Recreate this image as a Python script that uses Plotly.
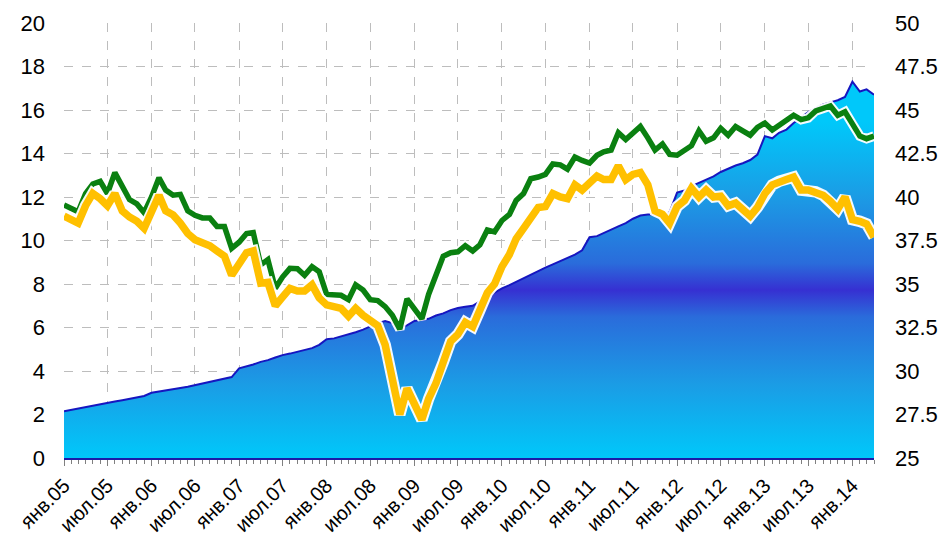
import plotly.graph_objects as go
import pandas as pd

# ---- data -------------------------------------------------------------
months = [d.strftime("%Y-%m-%d") for d in pd.date_range("2005-01-01", "2014-04-01", freq="MS")]

tick_dates = ["2005-01-01", "2005-07-01", "2006-01-01", "2006-07-01", "2007-01-01", "2007-07-01",
              "2008-01-01", "2008-07-01", "2009-01-01", "2009-07-01", "2010-01-01", "2010-07-01",
              "2011-01-01", "2011-07-01", "2012-01-01", "2012-07-01", "2013-01-01", "2013-07-01",
              "2014-01-01"]
tick_labels = ["янв.05", "июл.05", "янв.06", "июл.06", "янв.07", "июл.07", "янв.08", "июл.08",
               "янв.09", "июл.09", "янв.10", "июл.10", "янв.11", "июл.11", "янв.12", "июл.12",
               "янв.13", "июл.13", "янв.14"]

# left axis (area)
area_values = [
    2.15, 2.22, 2.28, 2.34, 2.41, 2.47, 2.54, 2.60, 2.66, 2.72, 2.78, 2.85,
    3.00, 3.05, 3.10, 3.16, 3.22, 3.28, 3.35, 3.41, 3.48, 3.55, 3.62, 3.72,
    4.12, 4.20, 4.30, 4.42, 4.50, 4.62, 4.73, 4.80, 4.88, 4.95, 5.05, 5.20,
    5.46, 5.50, 5.58, 5.67, 5.78, 5.90, 6.05, 6.20, 6.30, 6.20, 5.95, 6.10,
    6.30, 6.35, 6.40, 6.55, 6.65, 6.80, 6.90, 6.95, 7.00, 7.20, 7.45, 7.60,
    7.80, 7.95, 8.10, 8.30, 8.45, 8.60, 8.75, 8.90, 9.05, 9.20, 9.35, 9.55,
    10.15, 10.20, 10.35, 10.50, 10.65, 10.80, 11.00, 11.15, 11.20, 11.20, 11.15, 11.30,
    12.20, 12.30, 12.50, 12.65, 12.80, 12.95, 13.15, 13.30, 13.45, 13.55, 13.70, 13.95,
    14.80, 14.70, 14.95, 15.10, 15.40, 15.65, 15.90, 16.10, 16.25, 16.35, 16.45, 16.60,
    17.30, 16.85, 16.95, 16.70,
]

# right axis (lines)
green_values = [
    39.54, 39.30, 39.15, 40.20, 40.75, 40.90, 40.20, 41.40, 40.60, 39.85, 39.60, 39.10,
    40.00, 41.10, 40.40, 40.10, 40.15, 39.20, 38.95, 38.80, 38.80, 38.30, 38.30, 37.05,
    37.40, 37.90, 37.95, 36.10, 36.40, 34.75, 35.40, 35.90, 35.88, 35.50, 36.00, 35.70,
    34.40, 34.40, 34.35, 34.10, 34.95, 34.65, 34.10, 34.05, 33.70, 33.20, 32.40, 34.15,
    33.60, 33.00, 34.40, 35.60, 36.60, 36.80, 36.85, 37.20, 36.90, 37.25, 38.10, 38.00,
    38.65, 39.00, 39.80, 40.20, 41.05, 41.15, 41.30, 41.90, 41.85, 41.60, 42.30, 42.10,
    41.95, 42.40, 42.60, 42.70, 43.70, 43.30, 43.70, 44.05, 43.40, 42.70, 43.05, 42.45,
    42.40, 42.70, 42.95, 43.80, 43.20, 43.40, 43.95, 43.55, 44.05, 43.80, 43.55, 44.00,
    44.25, 43.85, 44.10, 44.45, 44.70, 44.45, 44.55, 44.95, 45.10, 45.23, 44.70, 44.90,
    44.20, 43.50, 43.35, 43.50,
]

yellow_values = [
    38.90, 38.70, 38.50, 39.50, 40.20, 39.90, 39.50, 40.20, 39.20, 38.85, 38.60, 38.20,
    39.10, 40.10, 39.20, 38.97, 38.50, 37.90, 37.55, 37.40, 37.20, 36.90, 36.60, 35.50,
    36.10, 36.80, 36.90, 35.05, 35.10, 33.75, 34.25, 34.75, 34.60, 34.60, 34.95, 34.20,
    33.80, 33.70, 33.60, 33.15, 33.60, 33.20, 32.90, 32.60, 31.50, 29.50, 27.50, 29.00,
    28.10, 27.20, 28.40, 29.30, 30.50, 31.70, 32.10, 32.80, 32.55, 33.50, 34.50, 35.00,
    36.00, 36.70, 37.60, 38.20, 38.80, 39.40, 39.45, 40.20, 40.00, 39.90, 40.70, 40.40,
    40.80, 41.20, 41.00, 41.00, 41.80, 41.00, 41.30, 41.40, 40.70, 39.20, 39.00, 38.50,
    39.45, 39.80, 40.50, 40.00, 40.40, 40.00, 40.05, 39.50, 39.65, 39.30, 38.90, 39.40,
    40.20, 40.70, 40.90, 41.00, 41.15, 40.40, 40.40, 40.30, 40.10, 39.75, 39.30, 40.00,
    38.70, 38.60, 38.45, 37.70,
]

# ---- figure -----------------------------------------------------------
FONT = "Liberation Sans, Arial, sans-serif"

fig = go.Figure()

fig.add_trace(go.Scatter(
    x=months, y=area_values, mode="lines", yaxis="y",
    line=dict(color="#1616C0", width=2),
    fill="tozeroy",
    fillgradient=dict(
        type="vertical", start=0, stop=15.44,
        colorscale=[[0.0, "#00C8FA"], [0.22, "#1B9CE5"], [0.42, "#2A6CDB"], [0.5, "#3630D2"],
                    [0.58, "#2A6CDB"], [0.78, "#1B9CE5"], [1.0, "#00C8FA"]],
    ),
    hoverinfo="skip", showlegend=False,
))

for vals, color, w in [(green_values, "#0A8010", 5.5), (yellow_values, "#FFC000", 7.5)]:
    fig.add_trace(go.Scatter(
        x=months, y=vals, mode="lines", yaxis="y2",
        line=dict(color="rgba(255,255,255,0.95)", width=w + 4),
        hoverinfo="skip", showlegend=False,
    ))
    fig.add_trace(go.Scatter(
        x=months, y=vals, mode="lines", yaxis="y2",
        line=dict(color=color, width=w),
        showlegend=False,
    ))

grid = "#BDBDBD"
# page body has an 8px default margin, so the figure sits at (8, 8)
fig.update_layout(
    width=930, height=528,
    margin=dict(l=56, r=64, t=15, b=78),
    paper_bgcolor="white", plot_bgcolor="white",
    font=dict(family=FONT, color="#000000"),
    xaxis=dict(
        type="date", range=[months[0], months[-1]], automargin=False,
        tickmode="array", tickvals=tick_dates, ticktext=tick_labels,
        tickangle=-45, tickfont=dict(size=20), ticklabelstandoff=0,
        ticks="outside", ticklen=6, tickcolor="#808080", tickwidth=1,
        showgrid=True, gridcolor=grid, griddash="dash", gridwidth=1,
        showline=True, linecolor="#1C1CA8", linewidth=2,
        minor=dict(dtick="M1", tick0="2005-01-01", ticks="outside", ticklen=4,
                   tickcolor="#808080", showgrid=False),
        zeroline=False,
    ),
    yaxis=dict(
        range=[0, 20], dtick=2, tickfont=dict(size=22), automargin=False,
        showgrid=True, gridcolor=grid, griddash="dash", gridwidth=1,
        zeroline=False, showline=False, ticks="", ticklabelstandoff=18,
    ),
    yaxis2=dict(
        range=[25, 50], dtick=2.5, overlaying="y", side="right", automargin=False,
        tickfont=dict(size=22), showgrid=False, zeroline=False,
        showline=False, ticks="", ticklabelstandoff=20,
    ),
)

fig.write_html("out.html")
